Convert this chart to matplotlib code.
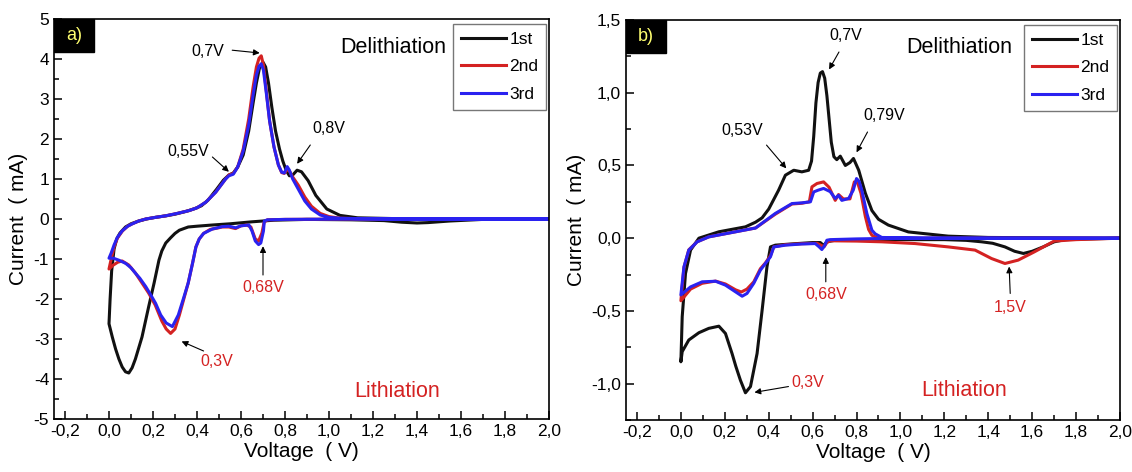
import numpy as np
import matplotlib
matplotlib.use('Agg')
import matplotlib.pyplot as plt
from matplotlib.patches import Rectangle

plt.rcParams['font.family'] = ['Liberation Sans', 'DejaVu Sans']

# ---------------- panel a) data (V, mA) ----------------
# each cycle: cathodic sweep 2.0 -> 0 V followed by anodic sweep 0 -> 2.0 V
a1_v = [2.0, 1.7, 1.55, 1.45, 1.4, 1.33, 1.25, 1.1, 0.9, 0.75, 0.65, 0.55, 0.47, 0.40, 0.36, 0.32, 0.30,
        0.28, 0.258, 0.24, 0.227, 0.205, 0.18, 0.15, 0.12, 0.105, 0.09, 0.075, 0.06, 0.045, 0.03, 0.015, 0.0,
        0.005, 0.012, 0.023, 0.035, 0.05, 0.075, 0.1, 0.13, 0.17, 0.21, 0.26, 0.3, 0.35, 0.39, 0.42, 0.45,
        0.49, 0.52, 0.545, 0.565, 0.585, 0.61, 0.635, 0.655, 0.67, 0.685, 0.70, 0.712, 0.725, 0.74, 0.757,
        0.775, 0.79, 0.805, 0.82, 0.835, 0.855, 0.875, 0.905, 0.94, 0.99, 1.05, 1.13, 1.3, 1.6, 2.0]
a1_i = [0.0, -0.01, -0.05, -0.09, -0.1, -0.08, -0.04, -0.02, -0.01, -0.03, -0.07, -0.12, -0.15, -0.18, -0.2, -0.28, -0.36,
        -0.47, -0.6, -0.8, -1.03, -1.6, -2.2, -2.95, -3.5, -3.72, -3.85, -3.82, -3.7, -3.5, -3.25, -2.95, -2.62,
        -2.0, -1.3, -0.75, -0.5, -0.35, -0.2, -0.12, -0.06, 0.0, 0.04, 0.08, 0.12, 0.19, 0.26, 0.33, 0.47,
        0.75, 0.97, 1.1, 1.15, 1.3, 1.6, 2.2, 2.9, 3.4, 3.8, 3.92, 3.8, 3.4, 2.8, 2.2,
        1.75, 1.45, 1.22, 1.08, 1.1, 1.22, 1.18, 0.96, 0.59, 0.25, 0.09, 0.03, 0.01, 0.0, 0.0]

a2_v = [2.0, 1.2, 0.8, 0.72, 0.705, 0.695, 0.68, 0.665, 0.645, 0.625, 0.6, 0.575, 0.545, 0.515, 0.49, 0.46,
        0.43, 0.41, 0.395, 0.38, 0.36, 0.34, 0.32, 0.30, 0.28, 0.26, 0.24, 0.21, 0.18, 0.15, 0.12, 0.09,
        0.06, 0.04, 0.02, 0.0,
        0.01, 0.023, 0.038, 0.061, 0.085, 0.106, 0.135, 0.167, 0.21, 0.258, 0.31, 0.364, 0.40, 0.44, 0.485,
        0.53, 0.545, 0.565, 0.585, 0.61, 0.635, 0.655, 0.67, 0.682, 0.692, 0.702, 0.715, 0.73, 0.75, 0.77,
        0.785, 0.797, 0.81, 0.82, 0.835, 0.86, 0.89, 0.92, 0.96, 1.0, 1.05, 1.12, 1.3, 1.6, 2.0]
a2_i = [0.0, 0.0, -0.01, -0.02, -0.08, -0.35, -0.55, -0.5, -0.2, -0.15, -0.17, -0.24, -0.2, -0.2, -0.23, -0.26,
        -0.36, -0.5, -0.7, -1.1, -1.6, -2.0, -2.4, -2.75, -2.86, -2.75, -2.55, -2.15, -1.85, -1.6, -1.35, -1.15,
        -1.05, -1.08, -1.15, -1.25,
        -1.0, -0.7, -0.48, -0.3, -0.18, -0.12, -0.05, 0.0, 0.04, 0.08, 0.14, 0.21, 0.28, 0.42, 0.67,
        1.0, 1.1, 1.14, 1.3, 1.75, 2.5, 3.3, 3.8, 4.02, 4.08, 3.85, 3.2, 2.45, 1.8, 1.35,
        1.16, 1.14, 1.24, 1.2, 1.05, 0.85, 0.55, 0.32, 0.14, 0.06, 0.02, 0.01, 0.0, 0.0, 0.0]

a3_v = [2.0, 1.2, 0.8, 0.72, 0.706, 0.702, 0.69, 0.68, 0.665, 0.65, 0.636, 0.6, 0.576, 0.545, 0.515, 0.47,
        0.43, 0.41, 0.395, 0.38, 0.36, 0.34, 0.315, 0.288, 0.26, 0.235, 0.212, 0.19, 0.167, 0.14, 0.121, 0.1,
        0.076, 0.045, 0.02, 0.0,
        0.01, 0.023, 0.038, 0.061, 0.085, 0.106, 0.135, 0.167, 0.21, 0.258, 0.31, 0.364, 0.40, 0.44, 0.485,
        0.53, 0.545, 0.565, 0.585, 0.61, 0.635, 0.655, 0.67, 0.682, 0.692, 0.702, 0.715, 0.73, 0.75, 0.77,
        0.785, 0.797, 0.81, 0.82, 0.835, 0.86, 0.89, 0.92, 0.96, 1.0, 1.05, 1.12, 1.3, 1.6, 2.0]
a3_i = [0.0, 0.0, -0.01, -0.02, -0.05, -0.3, -0.6, -0.64, -0.55, -0.3, -0.15, -0.17, -0.22, -0.18, -0.19, -0.25,
        -0.36, -0.5, -0.7, -1.1, -1.6, -1.96, -2.4, -2.69, -2.6, -2.4, -2.11, -1.9, -1.69, -1.48, -1.36, -1.22,
        -1.11, -1.03, -0.98, -0.98,
        -0.85, -0.65, -0.46, -0.29, -0.18, -0.12, -0.05, 0.0, 0.04, 0.08, 0.14, 0.21, 0.28, 0.42, 0.67,
        1.0, 1.08, 1.12, 1.3, 1.7, 2.35, 3.1, 3.6, 3.82, 3.88, 3.72, 3.15, 2.45, 1.8, 1.35,
        1.17, 1.15, 1.31, 1.22, 1.0, 0.75, 0.45, 0.25, 0.1, 0.04, 0.02, 0.01, 0.0, 0.0, 0.0]

# ---------------- panel b) data (V, mA) ----------------
b1_v = [2.0, 1.85, 1.75, 1.7, 1.65, 1.6, 1.56, 1.52, 1.476, 1.42, 1.37, 1.3, 1.2, 1.0, 0.8, 0.7, 0.665, 0.65,
        0.635, 0.6, 0.5, 0.43, 0.408, 0.392, 0.37, 0.347, 0.317, 0.294, 0.271, 0.25, 0.233, 0.203, 0.173,
        0.127, 0.082, 0.036, 0.006, 0.0,
        0.006, 0.021, 0.044, 0.082, 0.173, 0.294, 0.34, 0.37, 0.40, 0.445, 0.476, 0.514, 0.551, 0.582, 0.595,
        0.605, 0.615, 0.625, 0.635, 0.645, 0.655, 0.665, 0.675, 0.685, 0.697, 0.71, 0.726, 0.749, 0.77,
        0.786, 0.81, 0.84, 0.87, 0.9, 0.945, 1.036, 1.218, 1.4, 2.0]
b1_i = [0.0, -0.005, -0.01, -0.025, -0.06, -0.09, -0.105, -0.09, -0.06, -0.035, -0.025, -0.015, -0.01, -0.01,
        -0.01, -0.015, -0.025, -0.05, -0.03, -0.03, -0.04, -0.048, -0.06, -0.197, -0.495, -0.793, -1.02, -1.063,
        -0.976, -0.88, -0.793, -0.655, -0.605, -0.62, -0.65, -0.70, -0.78, -0.85,
        -0.54, -0.243, -0.082, 0.0, 0.044, 0.078, 0.11, 0.14, 0.2, 0.33, 0.433, 0.467, 0.456, 0.467, 0.53,
        0.70, 0.93, 1.07, 1.135, 1.145, 1.10, 0.98, 0.82, 0.66, 0.56, 0.54, 0.564, 0.50, 0.52,
        0.548, 0.467, 0.31, 0.19, 0.13, 0.09, 0.043, 0.014, 0.005, 0.0]

b2_v = [2.0, 1.8, 1.7, 1.61, 1.536, 1.476, 1.415, 1.34, 1.218, 1.067, 0.915, 0.8, 0.68, 0.665, 0.652, 0.64,
        0.62, 0.55, 0.476, 0.423, 0.408, 0.385, 0.362, 0.332, 0.301, 0.275, 0.249, 0.203, 0.158, 0.097, 0.044, 0.0,
        0.014, 0.036, 0.074, 0.127, 0.249, 0.34, 0.43, 0.506, 0.551, 0.585, 0.597, 0.62, 0.65, 0.675, 0.703,
        0.718, 0.74, 0.77, 0.79, 0.805, 0.82, 0.84, 0.855, 0.87, 0.9, 1.1, 2.0]
b2_i = [0.0, -0.01, -0.02, -0.094, -0.151, -0.174, -0.14, -0.082, -0.06, -0.037, -0.025, -0.02, -0.018, -0.03,
        -0.06, -0.05, -0.035, -0.038, -0.045, -0.06, -0.12, -0.17, -0.21, -0.3, -0.35, -0.37, -0.355, -0.315,
        -0.295, -0.31, -0.35, -0.43,
        -0.2, -0.08, -0.025, 0.009, 0.044, 0.07, 0.165, 0.235, 0.24, 0.25, 0.353, 0.376, 0.387, 0.35, 0.26,
        0.30, 0.27, 0.27, 0.387, 0.38, 0.31, 0.15, 0.06, 0.02, 0.0, 0.0, 0.0]

b3_v = [2.0, 1.0, 0.8, 0.68, 0.665, 0.655, 0.642, 0.63, 0.612, 0.55, 0.476, 0.423, 0.408, 0.385, 0.362,
        0.332, 0.301, 0.279, 0.249, 0.203, 0.158, 0.097, 0.044, 0.0,
        0.014, 0.036, 0.074, 0.127, 0.249, 0.34, 0.43, 0.506, 0.551, 0.59, 0.605, 0.625, 0.65, 0.68, 0.703,
        0.718, 0.733, 0.764, 0.785, 0.80, 0.812, 0.824, 0.847, 0.87, 0.885, 0.915, 1.1, 2.0]
b3_i = [0.0, 0.0, -0.005, -0.01, -0.014, -0.05, -0.078, -0.06, -0.037, -0.04, -0.048, -0.06, -0.128, -0.174,
        -0.22, -0.31, -0.38, -0.399, -0.369, -0.323, -0.296, -0.30, -0.335, -0.39,
        -0.197, -0.082, -0.025, 0.009, 0.044, 0.07, 0.17, 0.238, 0.243, 0.25, 0.318, 0.33, 0.342, 0.32, 0.273,
        0.295, 0.26, 0.273, 0.33, 0.41, 0.39, 0.33, 0.17, 0.055, 0.03, 0.005, 0.0, 0.0]

cycle_labels = ['1st', '2nd', '3rd']
cycle_colors = ['#111111', '#d42222', '#2a22f0']

x_ticks = [-0.2, 0.0, 0.2, 0.4, 0.6, 0.8, 1.0, 1.2, 1.4, 1.6, 1.8, 2.0]
x_ticklabels = ['-0,2', '0,0', '0,2', '0,4', '0,6', '0,8', '1,0', '1,2', '1,4', '1,6', '1,8', '2,0']
ya_ticks = [5, 4, 3, 2, 1, 0, -1, -2, -3, -4, -5]
ya_ticklabels = ['5', '4', '3', '2', '1', '0', '-1', '-2', '-3', '-4', '-5']
yb_ticks = [1.5, 1.0, 0.5, 0.0, -0.5, -1.0]
yb_ticklabels = ['1,5', '1,0', '0,5', '0,0', '-0,5', '-1,0']

# annotations: (text, text pos, arrow tail, arrow head, color)
ann_a = [('0,7V', (0.45, 4.2), (0.56, 4.22), (0.685, 4.15), 'black'),
         ('0,55V', (0.36, 1.68), (0.47, 1.55), (0.545, 1.18), 'black'),
         ('0,8V', (1.0, 2.26), (0.915, 1.85), (0.855, 1.38), 'black'),
         ('0,3V', (0.49, -3.56), (0.43, -3.3), (0.33, -3.06), '#d42222'),
         ('0,68V', (0.70, -1.72), (0.70, -1.4), (0.70, -0.68), '#d42222')]
ann_b = [('0,7V', (0.75, 1.39), (0.72, 1.28), (0.675, 1.16), 'black'),
         ('0,53V', (0.28, 0.74), (0.39, 0.64), (0.48, 0.48), 'black'),
         ('0,79V', (0.925, 0.846), (0.85, 0.73), (0.80, 0.59), 'black'),
         ('0,68V', (0.66, -0.39), (0.66, -0.30), (0.66, -0.13), '#d42222'),
         ('1,5V', (1.50, -0.48), (1.50, -0.38), (1.495, -0.195), '#d42222'),
         ('0,3V', (0.58, -0.995), (0.49, -1.02), (0.335, -1.06), '#d42222')]

fig = plt.figure(figsize=(11.32, 4.72), dpi=100)
ax_a = fig.add_axes([54 / 1132, 1 - 419 / 472, 495 / 1132, 400 / 472])
ax_b = fig.add_axes([626 / 1132, 1 - 420 / 472, 494 / 1132, 400 / 472])

panels = [
    (ax_a, [(a1_v, a1_i), (a2_v, a2_i), (a3_v, a3_i)], (-5, 5), ya_ticks, ya_ticklabels, 0.5, ann_a,
     'a)', (1.29, 4.28), (1.31, -4.31)),
    (ax_b, [(b1_v, b1_i), (b2_v, b2_i), (b3_v, b3_i)], (-1.25, 1.5), yb_ticks, yb_ticklabels, 0.25, ann_b,
     'b)', (1.27, 1.31), (1.29, -1.05)),
]

for ax, series, ylim, yt, ytl, yminor, anns, tag, pos_del, pos_lit in panels:
    for (v, i), lab, col in zip(series, cycle_labels, cycle_colors):
        ax.plot(v, i, color=col, lw=2.2, label=lab, solid_joinstyle='round')
    ax.set_xlim(-0.25, 2.0)
    ax.set_ylim(*ylim)
    ax.set_xticks(x_ticks)
    ax.set_xticklabels(x_ticklabels)
    ax.set_xticks(np.arange(-0.1, 2.0, 0.2), minor=True)
    ax.set_yticks(yt)
    ax.set_yticklabels(ytl)
    ax.set_yticks(np.arange(ylim[0], ylim[1] + 0.01, yminor), minor=True)
    ax.tick_params(which='both', direction='in', top=False, right=False, labelsize=12.5, width=1.1)
    ax.tick_params(which='major', length=6)
    ax.tick_params(which='minor', length=3.5)
    for s in ax.spines.values():
        s.set_linewidth(1.2)
    ax.set_xlabel('Voltage  ( V)', fontsize=15, labelpad=2)
    ax.set_ylabel('Current  ( mA)', fontsize=15, labelpad=4)

    leg = ax.legend(loc='upper right', bbox_to_anchor=(0.994, 0.988), fontsize=12.5, frameon=True,
                    fancybox=False, handlelength=2.6, handletextpad=0.2, labelspacing=0.72,
                    borderpad=0.45, borderaxespad=0)
    leg.get_frame().set_edgecolor('#555555')
    leg.get_frame().set_linewidth(1.0)

    ax.add_patch(Rectangle((0, 0.917), 0.08, 0.083, transform=ax.transAxes, color='black', zorder=5))
    ax.text(0.04, 0.958, tag, transform=ax.transAxes, color='#ffff70', fontsize=13,
            ha='center', va='center', zorder=6)

    ax.text(pos_del[0], pos_del[1], 'Delithiation', fontsize=15.5, ha='center', va='center')
    ax.text(pos_lit[0], pos_lit[1], 'Lithiation', fontsize=15.5, ha='center', va='center', color='#d42222')

    for txt, tpos, tail, head, col in anns:
        ax.annotate('', xy=head, xytext=tail,
                    arrowprops=dict(arrowstyle='-|>', color='black', lw=0.8, mutation_scale=9,
                                    shrinkA=0, shrinkB=0))
        ax.text(tpos[0], tpos[1], txt, fontsize=11.5, ha='center', va='center', color=col)

fig.savefig('out.png', dpi=100)
